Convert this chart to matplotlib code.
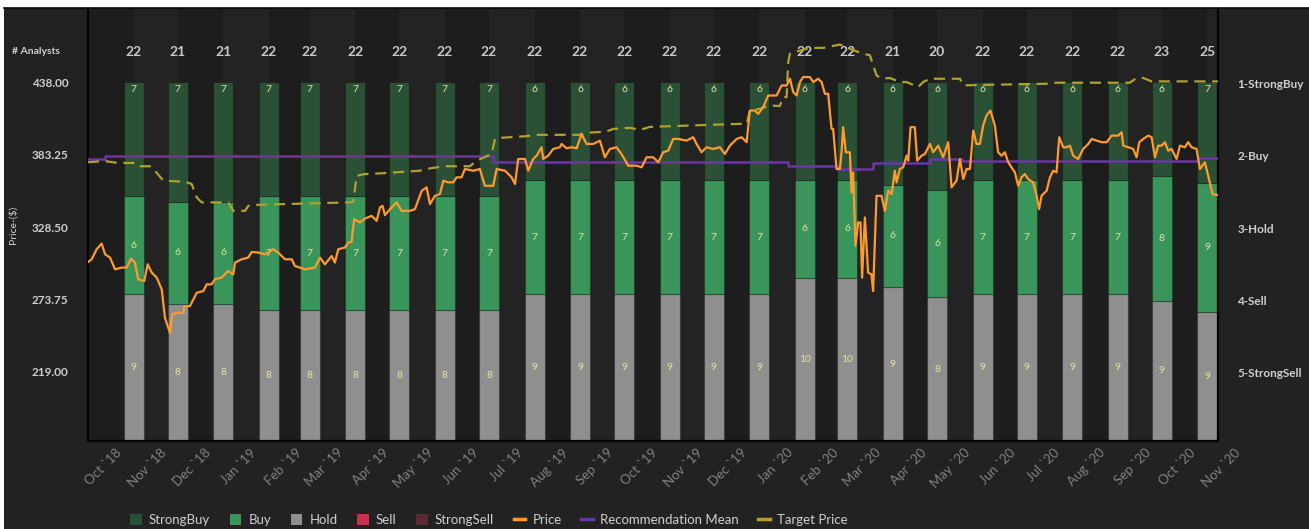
import numpy as np
import pandas as pd
import matplotlib
matplotlib.use("Agg")
import matplotlib.pyplot as plt
from matplotlib.patches import Patch, Rectangle
from matplotlib.lines import Line2D
from matplotlib.transforms import ScaledTranslation, blended_transform_factory

plt.rcParams['font.family'] = ['Lato', 'DejaVu Sans']

## Data
start = pd.Timestamp('2018-10-01')

# monthly analyst snapshots, Nov 2018 .. Nov 2020
months = pd.date_range('2018-11-01', periods=25, freq='MS')
strong_buy = [7, 7, 7, 7, 7, 7, 7, 7, 7, 6, 6, 6, 6, 6, 6, 6, 6, 6, 6, 6, 6, 6, 6, 6, 7]
buy = [6, 6, 6, 7, 7, 7, 7, 7, 7, 7, 7, 7, 7, 7, 7, 6, 6, 6, 6, 7, 7, 7, 7, 8, 9]
hold = [9, 8, 8, 8, 8, 8, 8, 8, 8, 9, 9, 9, 9, 9, 9, 10, 10, 9, 8, 9, 9, 9, 9, 9, 9]
sell = [0] * 25
strong_sell = [0] * 25

# price (days after 2018-10-01, $)
price_day = [0, 2.5, 5.9, 9.3, 11.6, 15.0, 18.4, 22.9, 26.3, 29.3, 32.0, 34.2, 38.3, 40.6,
             43.4, 46.8, 50.2, 52.4, 55.8, 57.4, 60.4, 64.9, 65.6, 69.4, 74.0, 78.5, 80.8,
             84.1, 86.4, 90.9, 95.5, 98.9, 100.1, 104.6, 109.1, 111.4, 115.9, 120.5, 126.1,
             129.5, 134.1, 138.7, 140.9, 147.7, 154.5, 157.9, 161.3, 165.9, 168.1, 170.4,
             174.9, 177.2, 179.4, 181.2, 185.1, 188.6, 193.1, 196.5, 198.8, 200.5, 202.2,
             205.6, 210.1, 213.5, 219.2, 222.6, 227.2, 230.5, 232.8, 236.2, 239.6, 241.9,
             245.3, 248.7, 250.9, 254.3, 256.6, 262.3, 266.8, 270.2, 275.9, 278.2, 283.9,
             288.4, 290.7, 292.9, 297.5, 299.7, 303.1, 305.4, 308.8, 309.9, 313.3, 316.7,
             321.3, 322.4, 325.8, 329.3, 332.7, 336.0, 339.4, 344.0, 348.5, 351.9, 355.3,
             359.8, 363.2, 367.8, 373.5, 376.9, 380.3, 384.8, 388.2, 391.6, 395.0, 398.4,
             401.8, 407.5, 412.0, 414.3, 417.7, 421.1, 425.6, 430.2, 433.6, 437.0, 441.6,
             445.0, 448.4, 450.6, 454.0, 456.3, 459.7, 463.1, 468.8, 472.2, 475.6, 477.9,
             480.1, 482.4, 484.7, 486.9, 491.5, 493.7, 497.1, 499.4, 501.7, 503.9, 506.2,
             507.3, 509.6, 511.9, 513.0, 514.1, 515.9, 518.7, 519.8, 520.9, 522.5, 524.3,
             525.9, 527.0, 528.9, 531.1, 533.4, 534.5, 536.8, 540.2, 542.5, 544.8, 547.1,
             549.3, 550.5, 552.7, 555.0, 557.3, 558.4, 560.0, 562.9, 564.5, 567.5, 569.8,
             573.2, 575.4, 578.8, 582.2, 585.6, 586.8, 587.9, 591.3, 593.6, 595.9, 598.1,
             600.4, 602.7, 604.9, 607.2, 609.4, 611.7, 614.4, 617.4, 619.6, 621.9, 624.2,
             626.5, 628.7, 631.0, 633.3, 635.5, 637.8, 640.1, 643.4, 645.8, 647.5, 649.2,
             652.6, 654.9, 657.1, 659.4, 661.2, 663.9, 666.2, 668.5, 670.7, 674.1, 677.5,
             681.0, 683.3, 686.7, 690.1, 693.5, 696.9, 701.4, 703.7, 704.8, 708.2, 711.6,
             713.9, 715.7, 718.4, 721.8, 724.1, 726.4, 728.6, 730.9, 733.2, 735.4, 737.7,
             741.1, 743.4, 746.8, 749.0, 751.3, 754.7, 757.0, 760.4, 762.6, 765.6, 769.2]
price = [302.1, 304.2, 311.8, 316.1, 308.0, 305.5, 296.6, 297.9, 297.9, 304.7, 301.7, 289.0, 287.7, 300.4,
         294.1, 290.3, 281.4, 259.8, 248.4, 262.3, 263.6, 263.6, 268.7, 268.7, 278.8, 280.1, 285.2,
         285.2, 289.0, 290.3, 295.3, 292.8, 301.7, 304.2, 305.5, 309.7, 309.3, 308.0, 311.8,
         309.3, 304.2, 304.2, 299.1, 296.6, 297.9, 305.5, 300.4, 306.7, 301.7, 311.8,
         313.1, 316.9, 317.3, 334.6, 332.1, 335.1, 337.1, 333.3, 343.5, 344.7, 337.6,
         342.2, 347.3, 340.9, 340.9, 342.2, 356.1, 358.7, 346.0, 352.3, 353.6, 363.7,
         362.5, 362.5, 366.3, 366.3, 372.6, 371.3, 372.6, 359.9, 359.9, 372.6, 371.3,
         366.3, 361.2, 380.2, 380.2, 371.3, 380.2, 382.7, 389.1, 380.2, 382.7, 387.8,
         389.1, 391.6, 388.3, 389.1, 388.3, 399.2, 391.6, 391.6, 394.1, 381.5, 387.8,
         389.1, 384.0, 375.1, 375.1, 373.9, 381.5, 381.5, 377.7, 385.3, 386.5, 395.4,
         395.4, 394.1, 396.7, 391.6, 385.3, 389.1, 387.8, 389.1, 384.0, 390.3, 395.4,
         396.7, 392.9, 416.9, 416.9, 414.4, 419.5, 428.3, 428.3, 435.9, 435.9, 441.0,
         430.9, 428.3, 438.5, 442.3, 442.3, 438.5, 441.0, 438.5, 429.6, 429.6, 403.0,
         403.0, 372.6, 372.6, 385.3, 404.3, 385.3, 385.3, 354.9, 370.1, 314.3, 332.1,
         332.1, 290.3, 335.9, 294.1, 292.8, 280.1, 352.3, 352.3, 340.9, 356.1, 353.6,
         371.3, 362.5, 372.6, 373.9, 382.7, 378.9, 404.3, 404.3, 378.9, 382.7, 384.0,
         391.6, 385.3, 390.3, 381.5, 392.9, 375.1, 358.7, 363.7, 380.2, 365.0, 372.6,
         372.6, 401.7, 391.6, 391.6, 405.5, 413.1, 416.9, 405.5, 385.3, 382.7, 385.3,
         377.7, 373.9, 370.1, 359.9, 366.3, 368.8, 365.0, 362.5, 352.3, 342.2, 352.3,
         356.1, 366.3, 371.3, 370.1, 396.7, 389.1, 389.1, 390.3, 382.7, 380.2, 387.8,
         391.6, 395.4, 394.1, 392.9, 392.9, 397.9, 397.9, 400.5, 390.3, 389.1, 387.8,
         381.5, 392.9, 395.4, 397.9, 396.7, 381.5, 390.3, 390.3, 392.9, 386.5, 387.8,
         380.2, 390.3, 389.1, 392.9, 389.1, 387.8, 372.6, 377.7, 367.5, 353.6, 352.8]

# target price (days after 2018-10-01, $)
target_day = [0, 10.9, 20.4, 32.0, 34.2, 42.2, 45.6, 51.3, 66.0, 70.6, 74.0, 77.4, 95.5, 98.9,
              106.9, 109.1, 115.9, 177.2, 180.6, 182.9, 188.6, 198.8, 226.0, 232.8, 243.0,
              260.0, 264.6, 274.8, 277.1, 280.5, 298.6, 303.1, 334.9, 339.4, 353.0, 357.6,
              368.9, 375.7, 382.6, 403.0, 443.8, 448.4, 450.6, 457.4, 464.2, 471.0, 473.1,
              475.6, 476.7, 477.9, 481.3, 491.5, 500.6, 511.9, 521.0, 527.8, 532.3, 534.6,
              536.8, 540.2, 545.9, 552.7, 557.3, 565.2, 568.6, 573.2, 593.6, 595.9, 618.5,
              652.6, 659.4, 709.3, 713.9, 718.4, 724.1, 769.2]
target = [377.7, 378.7, 377.2, 377.2, 374.7, 374.7, 371.3, 363.7, 363.0, 361.2, 351.1, 347.3, 347.3, 340.9,
          340.9, 344.7, 345.5, 347.3, 347.7, 367.5, 368.8, 369.3, 371.3, 373.1, 374.7,
          374.7, 378.9, 384.0, 395.4, 396.2, 397.5, 398.5, 398.5, 400.0, 401.0, 403.0,
          403.8, 402.3, 404.5, 405.3, 406.8, 406.8, 416.9, 418.2, 420.7, 420.3, 427.1,
          427.1, 453.7, 460.0, 461.3, 464.4, 464.4, 466.9, 462.6, 460.0, 458.8, 451.1,
          443.6, 441.0, 441.6, 438.5, 438.5, 434.7, 438.5, 441.0, 441.0, 436.0, 436.5,
          437.2, 438.0, 438.0, 441.6, 441.6, 439.0, 439.0]

# recommendation mean (1 = strong buy .. 5 = strong sell)
rec_day = [0, 11.6, 275.7, 476.5, 510.5, 534.4, 573.2, 595.0, 709.0, 755.6, 769.2]
rec_mean = [2.042, 2.001, 2.092, 2.139, 2.189, 2.097, 2.050, 2.074, 2.074, 2.037, 2.037]

rating_labels = ['1-StrongBuy', '2-Buy', '3-Hold', '4-Sell', '5-StrongSell']
price_ticks = [219.00, 273.75, 328.50, 383.25, 438.00]

## Colors
c_sb, c_buy, c_hold, c_sell, c_ss = '#2a5036', '#3a955a', '#8f8f8f', '#c4344c', '#5c2a32'
c_price, c_rec, c_target = '#ff9a2e', '#6a36a8', '#b0a22c'

## Figure
W, H = 1309, 529
fig = plt.figure(figsize=(W / 100, H / 100), dpi=100, facecolor='white')
fig.patches.append(Rectangle((4 / W, 0), 1, (H - 8) / H, transform=fig.transFigure,
                             facecolor='#222222', edgecolor='none', zorder=-10))
fig.lines.append(Line2D([4 / W, 1], [(H - 8) / H] * 2, transform=fig.transFigure,
                        color='#0a0a0a', lw=1.2, zorder=-5))

rect = [88 / W, (H - 441) / H, 1130 / W, 432 / H]
ax = fig.add_axes(rect)
axr = fig.add_axes(rect, sharex=ax)
axp = fig.add_axes(rect, sharex=ax)

ax.set_facecolor('#1e1e1e')
for a in (axr, axp):
    a.patch.set_visible(False)
    for s in a.spines.values():
        s.set_visible(False)

xmin = start
xmax = start + pd.Timedelta(days=769.3)

# alternating month bands
edges = pd.date_range('2018-10-01', '2020-12-01', freq='MS')
for i in range(len(edges) - 1):
    ax.axvspan(edges[i], edges[i + 1], color='#1d1d1d' if i % 2 == 0 else '#232323',
               lw=0, zorder=0)

# 100% stacked analyst bars
total = np.array(strong_buy) + np.array(buy) + np.array(hold) + np.array(sell) + np.array(strong_sell)
stack = [(strong_sell, c_ss), (sell, c_sell), (hold, c_hold), (buy, c_buy), (strong_buy, c_sb)]
bottom = np.zeros(25)
seg_mid = {}
for vals, col in stack:
    pct = np.array(vals) / total * 100
    ax.bar(months, pct, bottom=bottom, width=13.6, color=col,
           edgecolor=(0, 0, 0, 0.25), lw=0.8, zorder=2)
    seg_mid[col] = bottom + pct / 2
    bottom = bottom + pct

for i, m in enumerate(months):
    ax.text(m, 97.8, str(strong_buy[i]), color='#e2e2a4', fontsize=7.5,
            ha='center', va='center', zorder=3)
    ax.text(m, seg_mid[c_buy][i], str(buy[i]), color='#e2e2a4', fontsize=7.5,
            ha='center', va='center', zorder=3)
    ax.text(m, seg_mid[c_hold][i], str(hold[i]), color='#e2e2a4', fontsize=7.5,
            ha='center', va='center', zorder=3)

trans = blended_transform_factory(ax.transData, ax.transAxes)
for i, m in enumerate(months):
    ax.text(m, 0.9005, str(total[i]), transform=trans, color='#c8c8c8', fontsize=10,
            fontweight='bold', ha='center', va='center')

ax.set_ylim(0, 120.33)
ax.set_yticks([])
ax.set_xlim(xmin, xmax)
for side in ('left', 'bottom', 'right'):
    ax.spines[side].set_color('#050505')
    ax.spines[side].set_linewidth(1.6)
ax.spines['top'].set_visible(False)

# month ticks
tick_months = pd.date_range('2018-10-01', '2020-11-01', freq='MS')
ax.set_xticks(tick_months)
ax.set_xticklabels([d.strftime('%b `%y') for d in tick_months], rotation=45, ha='right',
                   va='top', rotation_mode='anchor', color='#808080', fontsize=9.5)
ax.tick_params(axis='x', length=0, pad=4)
offset = ScaledTranslation(27 / 100, 0, fig.dpi_scale_trans)
for lbl in ax.get_xticklabels():
    lbl.set_transform(lbl.get_transform() + offset)

# recommendation mean (right axis)
rec_x = start + pd.to_timedelta(rec_day, unit='D')
axr.plot(rec_x, rec_mean, drawstyle='steps-post', color=c_rec, lw=1.8, zorder=4)
axr.set_ylim(5.944, -0.027)
axr.yaxis.tick_right()
axr.set_yticks([1, 2, 3, 4, 5])
axr.set_yticklabels(rating_labels, color='#cfcfcf', fontsize=8.5, fontweight='bold')
axr.tick_params(axis='y', length=0, pad=14)
axr.tick_params(axis='x', labelbottom=False, length=0)

# price and target price (left axis)
tgt_x = start + pd.to_timedelta(target_day, unit='D')
axp.plot(tgt_x, target, color=c_target, lw=1.6, dashes=(5, 3), zorder=4)
price_x = start + pd.to_timedelta(price_day, unit='D')
axp.plot(price_x, price, color=c_price, lw=1.6, zorder=5)
axp.set_ylim(166.5, 493.85)
axp.set_yticks(price_ticks)
axp.set_yticklabels([f'{v:.2f}' for v in price_ticks], color='#cfcfcf', fontsize=8.5,
                    fontweight='bold')
axp.tick_params(axis='y', length=0, pad=14)
axp.tick_params(axis='x', labelbottom=False, length=0)
axp.set_xlim(xmin, xmax)

fig.text(12 / W, 1 - 52 / H, '# Analysts', color='#d0d0d0', fontsize=7.5,
         fontweight='bold', ha='left', va='center')
fig.text(13 / W, 1 - 225 / H, 'Price-($)', color='#d0d0d0', fontsize=7.5,
         rotation=90, ha='center', va='center')

# legend
handles = [Patch(facecolor=c_sb), Patch(facecolor=c_buy), Patch(facecolor=c_hold),
           Patch(facecolor=c_sell), Patch(facecolor=c_ss),
           Line2D([0], [0], color=c_price, lw=2.5),
           Line2D([0], [0], color=c_rec, lw=2.5),
           Line2D([0], [0], color=c_target, lw=2.5)]
labels = ['StrongBuy', 'Buy', 'Hold', 'Sell', 'StrongSell', 'Price',
          'Recommendation Mean', 'Target Price']
fig.legend(handles, labels, loc='center', bbox_to_anchor=(489 / W, 1 - 520 / H), ncol=8,
           frameon=False, fontsize=9.5, labelcolor='#cfcfcf', handlelength=0.85,
           handleheight=0.95, handletextpad=0.55, columnspacing=1.5)

fig.savefig('out.png', dpi=100, facecolor=fig.get_facecolor())
